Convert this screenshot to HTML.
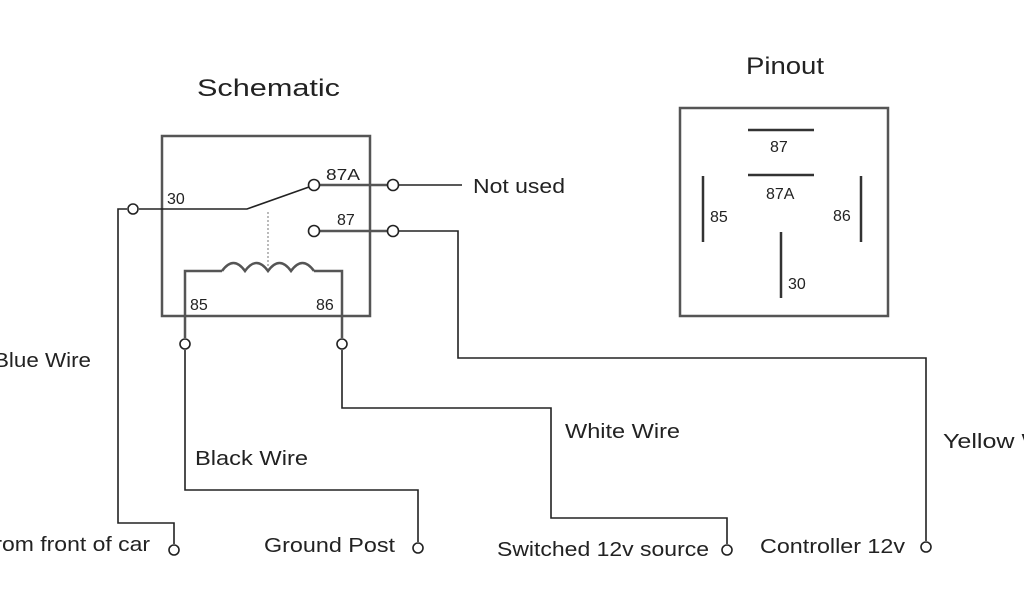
<!DOCTYPE html>
<html><head><meta charset="utf-8"><style>
html,body{margin:0;padding:0;background:#fff;}
svg text{font-family:"Liberation Sans",Arial,sans-serif;fill:#222;}
</style></head><body>
<svg width="1024" height="600" viewBox="0 0 1024 600" xmlns="http://www.w3.org/2000/svg">
<rect width="1024" height="600" fill="#fff"/>
<g fill="none" stroke="#555" stroke-width="2.5">
<rect x="162" y="136" width="208" height="180"/>
<rect x="680" y="108" width="208" height="208"/>
</g>
<g fill="none" stroke="#222" stroke-width="1.6">
<polyline points="139,209 247,209 309,187"/>
<polyline points="127,209 118,209 118,523 174,523 174,544"/>
<line x1="268" y1="212" x2="268" y2="266" stroke="#aaa" stroke-dasharray="2,2"/>
<line x1="320" y1="185" x2="387" y2="185" stroke="#555" stroke-width="2.5"/>
<line x1="399" y1="185" x2="462" y2="185"/>
<line x1="320" y1="231" x2="387" y2="231" stroke="#555" stroke-width="2.5"/>
<polyline points="399,231 458,231 458,358 926,358 926,541"/>
<g stroke="#555" stroke-width="2.5">
<polyline points="185,338 185,271 222,271"/>
<path d="M222,271 q11.5,-16 23,0 q11.5,-16 23,0 q11.5,-16 23,0 q11.5,-16 23,0"/>
<polyline points="314,271 342,271 342,338"/>
</g>
<polyline points="185,350 185,490 418,490 418,542"/>
<polyline points="342,350 342,408 551,408 551,518 727,518 727,544"/>
</g>
<g fill="#fff" stroke="#222" stroke-width="1.6">
<circle cx="133" cy="209" r="5"/>
<circle cx="314" cy="185" r="5.5"/>
<circle cx="393" cy="185" r="5.5"/>
<circle cx="314" cy="231" r="5.5"/>
<circle cx="393" cy="231" r="5.5"/>
<circle cx="185" cy="344" r="5"/>
<circle cx="342" cy="344" r="5"/>
<circle cx="174" cy="550" r="5"/>
<circle cx="418" cy="548" r="5"/>
<circle cx="727" cy="550" r="5"/>
<circle cx="926" cy="547" r="5"/>
</g>
<g stroke="#333" stroke-width="2.5">
<line x1="748" y1="130" x2="814" y2="130"/>
<line x1="748" y1="175" x2="814" y2="175"/>
<line x1="703" y1="176" x2="703" y2="242"/>
<line x1="861" y1="176" x2="861" y2="242"/>
<line x1="781" y1="232" x2="781" y2="298"/>
</g>
<g lengthAdjust="spacingAndGlyphs">
<text x="197" y="96" font-size="24" textLength="143" lengthAdjust="spacingAndGlyphs">Schematic</text>
<text x="746" y="74" font-size="24" textLength="78" lengthAdjust="spacingAndGlyphs">Pinout</text>
</g>
<g font-size="16">
<text x="167" y="204">30</text>
<text x="326" y="180" textLength="34" lengthAdjust="spacingAndGlyphs">87A</text>
<text x="337" y="225">87</text>
<text x="190" y="310">85</text>
<text x="316" y="310">86</text>
<text x="770" y="152">87</text>
<text x="766" y="199">87A</text>
<text x="710" y="222">85</text>
<text x="833" y="221">86</text>
<text x="788" y="289">30</text>
</g>
<g font-size="20">
<text x="473" y="193" textLength="92" lengthAdjust="spacingAndGlyphs">Not used</text>
<text x="-6" y="367" textLength="97" lengthAdjust="spacingAndGlyphs">Blue Wire</text>
<text x="195" y="465" textLength="113" lengthAdjust="spacingAndGlyphs">Black Wire</text>
<text x="565" y="438" textLength="115" lengthAdjust="spacingAndGlyphs">White Wire</text>
<text x="943" y="448" textLength="130" lengthAdjust="spacingAndGlyphs">Yellow Wire</text>
<text x="-12" y="551" textLength="162" lengthAdjust="spacingAndGlyphs">from front of car</text>
<text x="264" y="552" textLength="131" lengthAdjust="spacingAndGlyphs">Ground Post</text>
<text x="497" y="556" textLength="212" lengthAdjust="spacingAndGlyphs">Switched 12v source</text>
<text x="760" y="553" textLength="145" lengthAdjust="spacingAndGlyphs">Controller  12v</text>
</g>
</svg>
</body></html>
